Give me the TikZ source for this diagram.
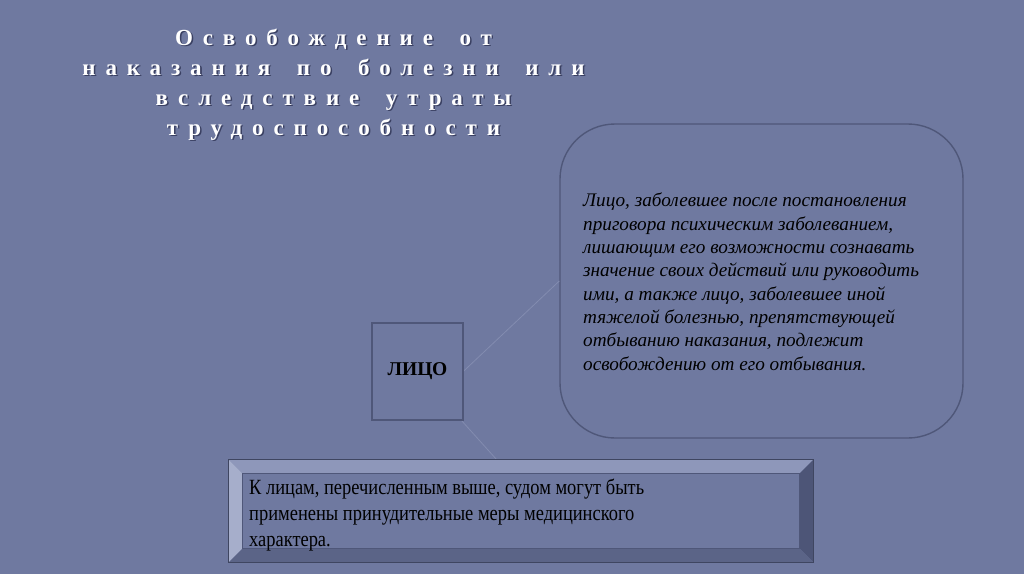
\documentclass[tikz,border=0pt]{standalone}
\usepackage{fontspec}
\setmainfont{Liberation Serif}
\newfontfamily\titlefont[LetterSpace=43,WordSpace=1.7]{Liberation Serif}
\newfontfamily\narrowfont[FakeStretch=0.85]{Liberation Serif}
\definecolor{bg}{HTML}{6F79A0}
\definecolor{edge}{HTML}{4F5779}
\definecolor{faint}{HTML}{838CB0}
\definecolor{bevtop}{HTML}{8E97BA}
\definecolor{bevleft}{HTML}{A6AECB}
\definecolor{bevright}{HTML}{4D5577}
\definecolor{bevbot}{HTML}{5B6487}
\definecolor{tshadow}{HTML}{3A4062}
\tikzset{
  titleline/.style={anchor=base,inner sep=0pt,text=white,font=\titlefont\bfseries\fontsize{23}{27}\selectfont},
  titleshadow/.style={titleline,text=tshadow},
  connector/.style={draw=faint,line width=0.8pt},
}
\begin{document}
\begin{tikzpicture}[x=1pt,y=-1pt]
\path[use as bounding box,fill=bg] (0,0) rectangle (1024,574);
% title
\foreach \t/\yy [count=\i] in {Освобождение от/45,наказания по болезни или/75,вследствие утраты/105,трудоспособности/135}{
  \node[titleshadow] at (335,\yy+1.6) {\t};
  \node[titleline] (title\i) at (333.5,\yy) {\t};
}
% rounded box
\node[draw=edge,line width=1.4pt,fill=bg,rounded corners=55pt,minimum width=403pt,minimum height=314pt,inner sep=0pt] (rbox) at (761.5,281) {};
\node[anchor=base west,inner sep=0pt,align=left,font=\itshape\fontsize{19.2}{23.3}\selectfont] (rtext) at (583,370)
{Лицо, заболевшее после постановления\\приговора психическим заболеванием,\\лишающим его возможности сознавать\\значение своих действий или руководить\\ими, а также лицо, заболевшее иной\\тяжелой болезнью, препятствующей\\отбыванию наказания, подлежит\\освобождению от его отбывания.};
% bottom bevel box
\node[minimum width=584pt,minimum height=102pt,inner sep=0pt] (bbox) at (521,511) {};
\coordinate (c2) at (497,460);
% connectors
\node[minimum width=91pt,minimum height=97pt,inner sep=0pt] (sq) at (417.5,371.5) {};
\draw[connector] (sq.east) -- (rbox.west);
\draw[connector] (sq) -- (c2);
\node[draw=edge,line width=1.4pt,fill=bg,minimum width=91pt,minimum height=97pt,inner sep=0pt,font=\bfseries\fontsize{19.5}{22}\selectfont] at (sq) {ЛИЦО};
% bevels
\fill[bevtop] (bbox.north west) -- (bbox.north east) -- ([shift={(-14,14)}]bbox.north east) -- ([shift={(14,14)}]bbox.north west) -- cycle;
\fill[bevleft] (bbox.north west) -- ([shift={(14,14)}]bbox.north west) -- ([shift={(14,-14)}]bbox.south west) -- (bbox.south west) -- cycle;
\fill[bevright] (bbox.north east) -- (bbox.south east) -- ([shift={(-14,-14)}]bbox.south east) -- ([shift={(-14,14)}]bbox.north east) -- cycle;
\fill[bevbot] (bbox.south west) -- ([shift={(14,-14)}]bbox.south west) -- ([shift={(-14,-14)}]bbox.south east) -- (bbox.south east) -- cycle;
\draw[edge,line width=0.8pt,fill=bg] ([shift={(14,14)}]bbox.north west) rectangle ([shift={(-14,-14)}]bbox.south east);
\draw[edge!80!black,line width=0.8pt] (bbox.north west) rectangle (bbox.south east);
\node[anchor=base west,inner sep=0pt,align=left,font=\narrowfont\fontsize{21.7}{26}\selectfont] (btext) at (249,546)
{К лицам, перечисленным выше, судом могут быть\\применены принудительные меры медицинского\\характера.};
\end{tikzpicture}
\end{document}
